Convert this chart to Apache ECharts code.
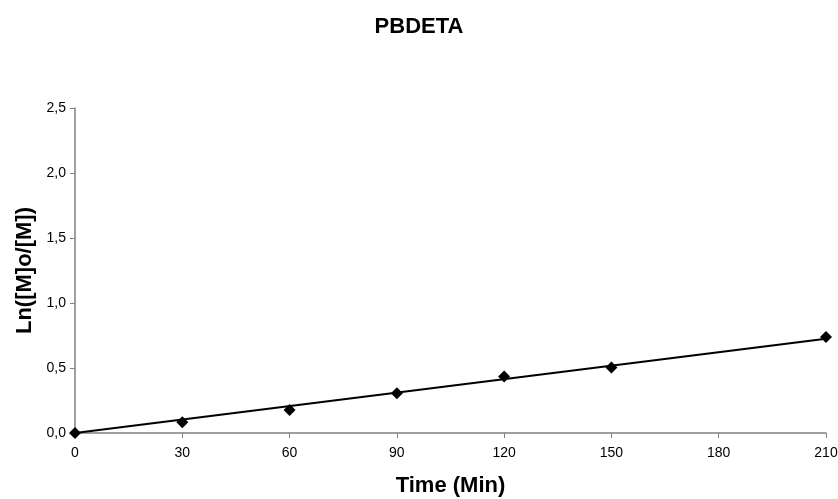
<!DOCTYPE html>
<html>
<head>
<meta charset="utf-8">
<script src="https://cdn.jsdelivr.net/npm/echarts@6/dist/echarts.min.js"></script>
<style>
  html, body { margin: 0; padding: 0; background: #fff; }
  #chart { width: 838px; height: 499px; }
</style>
</head>
<body>
<div id="chart"></div>
<script>
// Reaction time (min) and measured Ln([M]o/[M])
const timeMin = [0, 30, 60, 90, 120, 150, 210];
const lnRatio = [0, 0.083, 0.177, 0.306, 0.434, 0.504, 0.738];
const xTicks = [0, 30, 60, 90, 120, 150, 180, 210];
const yTicks = [0, 0.5, 1.0, 1.5, 2.0, 2.5];

// Least-squares linear trend forced through the origin
function originFit(xs, ys) {
  let sxy = 0, sxx = 0;
  for (let i = 0; i < xs.length; i++) {
    sxy += xs[i] * ys[i];
    sxx += xs[i] * xs[i];
  }
  return sxy / sxx;
}
const slope = originFit(timeMin, lnRatio);
const xMin = Math.min(...timeMin), xMax = Math.max(...timeMin);
const trend = [[xMin, slope * xMin], [xMax, slope * xMax]];

const font = 'Liberation Sans, Arial, sans-serif';
const axisGrey = '#808080';
const comma = v => v.toFixed(1).replace('.', ',');

const chart = echarts.init(document.getElementById('chart'), null, { renderer: 'canvas' });
chart.setOption({
  backgroundColor: '#ffffff',
  animation: false,
  title: {
    text: 'PBDETA',
    left: 'center',
    top: 11,
    textStyle: { fontFamily: font, fontSize: 22, fontWeight: 'bold', color: '#000' }
  },
  grid: {
    left: 75, right: 12, top: 108, bottom: 66,
    containLabel: false,
    outerBoundsMode: 'none'
  },
  xAxis: {
    type: 'value',
    min: xTicks[0],
    max: xTicks[xTicks.length - 1],
    interval: 30,
    name: 'Time (Min)',
    nameLocation: 'middle',
    nameGap: 42,
    nameTextStyle: { fontFamily: font, fontSize: 22, fontWeight: 'bold', color: '#000' },
    axisLine: { show: true, onZero: false, lineStyle: { color: axisGrey, width: 1.5 } },
    axisTick: { show: true, length: 5, inside: false, lineStyle: { color: axisGrey } },
    axisLabel: { fontFamily: font, fontSize: 14, color: '#000', margin: 13 },
    splitLine: { show: false }
  },
  yAxis: {
    type: 'value',
    min: yTicks[0],
    max: yTicks[yTicks.length - 1],
    interval: 0.5,
    name: 'Ln([M]o/[M])',
    nameLocation: 'middle',
    nameRotate: 90,
    nameGap: 36,
    nameTextStyle: { fontFamily: font, fontSize: 22, fontWeight: 'bold', color: '#000' },
    axisLine: { show: true, onZero: false, lineStyle: { color: axisGrey, width: 1.5 } },
    axisTick: { show: true, length: 5, inside: false, lineStyle: { color: axisGrey } },
    axisLabel: { fontFamily: font, fontSize: 14, color: '#000', margin: 9, formatter: comma },
    splitLine: { show: false }
  },
  series: [
    {
      name: 'trend',
      type: 'line',
      data: trend,
      symbol: 'none',
      lineStyle: { color: '#000', width: 2 },
      z: 2,
      silent: true
    },
    {
      name: 'Ln([M]o/[M])',
      type: 'scatter',
      data: timeMin.map((t, i) => [t, lnRatio[i]]),
      symbol: 'diamond',
      symbolSize: [12, 12],
      itemStyle: { color: '#000', opacity: 1 },
      z: 3
    }
  ]
});
</script>
</body>
</html>
